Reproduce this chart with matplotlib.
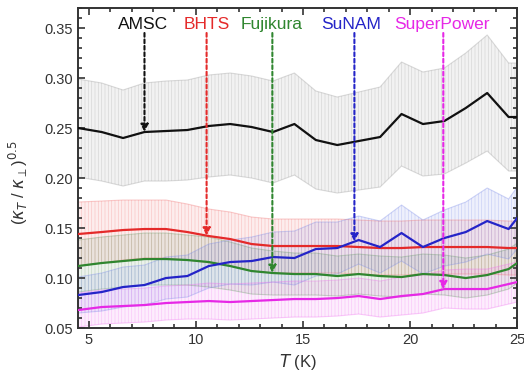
import numpy as np
import matplotlib
matplotlib.use("Agg")
import matplotlib.pyplot as plt
from matplotlib.colors import to_rgba
from matplotlib.ticker import MultipleLocator

plt.rcParams['font.family'] = ['Liberation Sans', 'DejaVu Sans']
plt.rcParams['hatch.linewidth'] = 0.5
plt.rcParams['mathtext.fontset'] = 'dejavusans'

# temperature grid (K)
T = [4.5, 5.6, 6.6, 7.6, 8.6, 9.6, 10.6, 11.6, 12.6, 13.6, 14.6,
     15.6, 16.6, 17.6, 18.6, 19.6, 20.6, 21.6, 22.6, 23.6, 24.6, 25.0]

amsc = [0.250, 0.246, 0.240, 0.246, 0.247, 0.248, 0.252, 0.254, 0.251, 0.246, 0.254,
        0.238, 0.233, 0.237, 0.241, 0.264, 0.254, 0.257, 0.270, 0.285, 0.261, 0.261]
amsc_err = [0.049, 0.049, 0.048, 0.049, 0.050, 0.050, 0.051, 0.051, 0.051, 0.051, 0.051,
            0.049, 0.048, 0.049, 0.050, 0.052, 0.052, 0.053, 0.055, 0.058, 0.054, 0.054]

bhts = [0.144, 0.146, 0.148, 0.149, 0.149, 0.146, 0.142, 0.139, 0.134, 0.132, 0.132,
        0.132, 0.132, 0.131, 0.130, 0.130, 0.131, 0.131, 0.131, 0.131, 0.130, 0.130]
bhts_err = [0.032, 0.031, 0.030, 0.029, 0.029, 0.028, 0.027, 0.027, 0.027, 0.027, 0.027,
            0.027, 0.027, 0.027, 0.027, 0.027, 0.027, 0.027, 0.027, 0.027, 0.027, 0.027]

fuji = [0.112, 0.115, 0.117, 0.119, 0.119, 0.118, 0.116, 0.112, 0.107, 0.105, 0.104,
        0.104, 0.102, 0.104, 0.102, 0.101, 0.104, 0.103, 0.100, 0.103, 0.109, 0.115]
fuji_err = [0.026, 0.026, 0.026, 0.026, 0.026, 0.025, 0.025, 0.024, 0.023, 0.022, 0.021,
            0.021, 0.020, 0.020, 0.020, 0.020, 0.020, 0.020, 0.020, 0.020, 0.020, 0.020]

sunam = [0.083, 0.086, 0.091, 0.093, 0.100, 0.102, 0.112, 0.116, 0.117, 0.121, 0.120,
         0.129, 0.130, 0.138, 0.131, 0.145, 0.131, 0.140, 0.146, 0.157, 0.149, 0.160]
sunam_err = [0.018, 0.019, 0.020, 0.020, 0.021, 0.021, 0.022, 0.022, 0.024, 0.025, 0.027,
             0.027, 0.026, 0.024, 0.026, 0.028, 0.027, 0.028, 0.030, 0.033, 0.030, 0.031]

spower = [0.068, 0.071, 0.072, 0.073, 0.075, 0.076, 0.077, 0.076, 0.077, 0.078, 0.079,
          0.079, 0.080, 0.082, 0.079, 0.082, 0.084, 0.089, 0.089, 0.089, 0.094, 0.096]
spower_err = [0.017, 0.017, 0.017, 0.017, 0.017, 0.017, 0.018, 0.018, 0.018, 0.018, 0.018,
              0.018, 0.018, 0.018, 0.018, 0.019, 0.019, 0.019, 0.020, 0.020, 0.020, 0.020]

names = ["AMSC", "BHTS", "Fujikura", "SuNAM", "SuperPower"]
# label x position, arrow target x
label_x = [7.55, 10.5, 13.55, 17.25, 21.5]
arrow_x = [7.6, 10.5, 13.57, 17.4, 21.55]

colors = ['#111111', '#e42a2a', '#2f862f', '#2424c8', '#e628e6']
band_colors = ['#9a9a9a', '#f07070', '#6a9a6a', '#7a8ae8', '#f070f0']

series = [(amsc, amsc_err), (bhts, bhts_err), (fuji, fuji_err),
          (sunam, sunam_err), (spower, spower_err)]

fig = plt.figure(figsize=(5.24, 3.81), dpi=100)
ax = fig.add_axes([0.149, 0.139, 0.838, 0.840])

T_arr = np.array(T)
for (y, e), bc in zip(series, band_colors):
    y = np.array(y)
    e = np.array(e)
    ax.fill_between(T_arr, y - e, y + e, facecolor=to_rgba(bc, 0.12),
                    edgecolor=to_rgba(bc, 0.3), hatch='|||||', linewidth=0, zorder=1)
    ax.plot(T_arr, y + e, color=bc, alpha=0.35, lw=0.8, zorder=1.5)
    ax.plot(T_arr, y - e, color=bc, alpha=0.35, lw=0.8, zorder=1.5)

for (y, e), c in zip(series, colors):
    ax.plot(T_arr, y, color=c, lw=1.6, zorder=3)

for name, lx, axx, (y, e), c in zip(names, label_x, arrow_x, series, colors):
    ax.text(lx, 0.354, name, color=c, fontsize=12.5, ha='center', va='center', zorder=5)
    tip = np.interp(axx, T_arr, y)
    ax.annotate('', xy=(axx, tip), xytext=(axx, 0.345),
                arrowprops=dict(arrowstyle='-|>', color=c, lw=1.5, linestyle=(0, (1.8, 1.3)),
                                mutation_scale=11, shrinkA=0, shrinkB=0), zorder=4)

ax.set_xlim(4.5, 25)
ax.set_ylim(0.05, 0.37)
ax.xaxis.set_major_locator(MultipleLocator(5))
ax.xaxis.set_minor_locator(MultipleLocator(1))
ax.yaxis.set_major_locator(MultipleLocator(0.05))
ax.yaxis.set_minor_locator(MultipleLocator(0.01))
ax.tick_params(which='both', direction='in', top=True, right=True, width=1.2, colors='#333333',
               labelsize=10.5)
ax.tick_params(which='major', length=5)
ax.tick_params(which='minor', length=3)
ax.set_yticks([0.05, 0.10, 0.15, 0.20, 0.25, 0.30, 0.35])
ax.set_yticklabels(['0.05', '0.10', '0.15', '0.20', '0.25', '0.30', '0.35'])
for s in ax.spines.values():
    s.set_linewidth(1.4)
    s.set_color('#333333')

ax.set_xlabel(r'$T$ (K)', fontsize=12, color='#333333', labelpad=4)
ax.set_ylabel(r'($\kappa_T$ / $\kappa_{\perp}$)$^{0.5}$', fontsize=12, color='#333333', labelpad=9)
ax.yaxis.set_label_coords(-0.11, 0.455)

fig.savefig('out.png', dpi=100)
